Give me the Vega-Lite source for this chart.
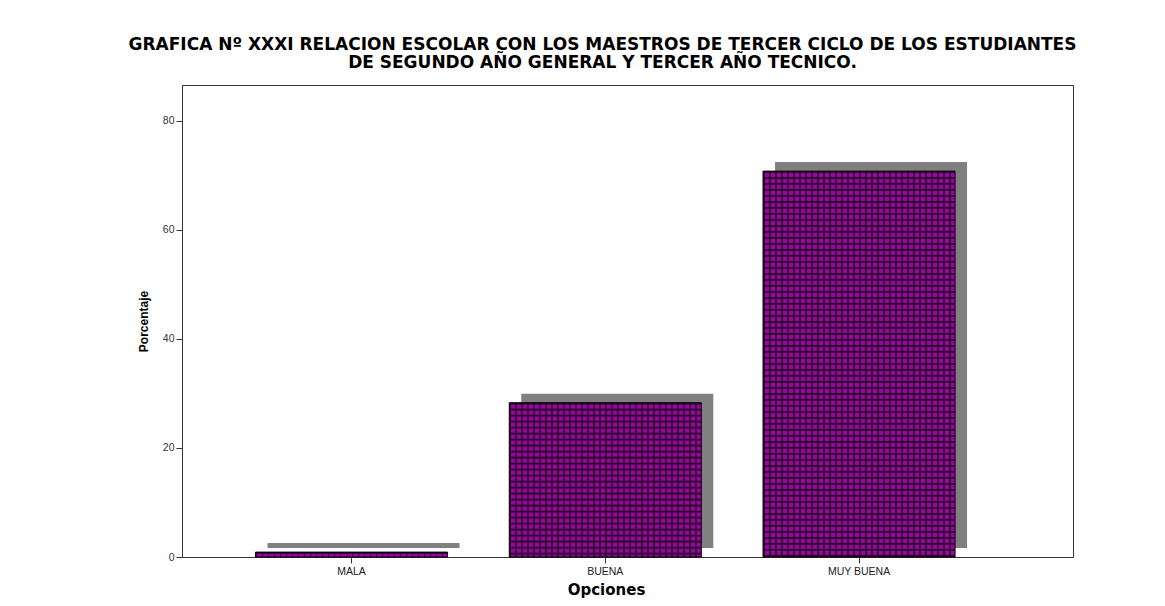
{
  "$schema": "https://vega.github.io/schema/vega-lite/v6.json",
  "autosize": "none",
  "width": 891,
  "height": 472,
  "padding": {"left": 182, "top": 85, "right": 92, "bottom": 49},
  "background": "#ffffff",
  "config": {
    "view": {"stroke": "#333333", "strokeWidth": 1},
    "font": "Liberation Sans"
  },
  "title": {
    "text": ["GRAFICA Nº XXXI RELACION ESCOLAR CON LOS MAESTROS DE TERCER CICLO DE LOS ESTUDIANTES", "DE SEGUNDO AÑO GENERAL Y TERCER AÑO TECNICO."],
    "font": "DejaVu Sans",
    "fontSize": 17,
    "fontWeight": "bold",
    "color": "#000000",
    "lineHeight": 18,
    "offset": 4,
    "dx": -25
  },
  "data": {
    "values": [
      {"Opciones": "MALA", "Porcentaje": 0.9},
      {"Opciones": "BUENA", "Porcentaje": 28.3},
      {"Opciones": "MUY BUENA", "Porcentaje": 70.8}
    ]
  },
  "encoding": {
    "x": {
      "field": "Opciones",
      "type": "nominal",
      "sort": null,
      "scale": {"paddingInner": 0.2433, "paddingOuter": 0.3773, "align": 0.384},
      "axis": {
        "labelAngle": 0,
        "tickSize": 6,
        "tickColor": "#333333",
        "domainColor": "#333333",
        "labelFontSize": 10.5,
        "labelColor": "#222222",
        "labelPadding": 3,
        "title": "Opciones",
        "titleFont": "DejaVu Sans",
        "titleFontSize": 15,
        "titleFontWeight": "bold",
        "titleColor": "#000000",
        "titlePadding": 6,
        "titleX": 424,
        "titleAlign": "center"
      }
    },
    "y": {
      "field": "Porcentaje",
      "type": "quantitative",
      "scale": {"domain": [0, 86.6], "nice": false, "zero": true},
      "axis": {
        "values": [0, 20, 40, 60, 80],
        "grid": false,
        "tickSize": 6,
        "tickColor": "#333333",
        "domainColor": "#333333",
        "labelFontSize": 10.5,
        "labelColor": "#333333",
        "labelPadding": 2,
        "title": "Porcentaje",
        "titleFont": "Liberation Sans",
        "titleFontSize": 12,
        "titleFontWeight": "bold",
        "titleColor": "#000000",
        "titlePadding": 12
      }
    }
  },
  "layer": [
    {
      "mark": {"type": "bar", "color": "#808080", "xOffset": 12, "x2Offset": 12, "yOffset": -9, "y2Offset": -9},
      "encoding": {"y2": {"datum": 0}}
    },
    {
      "mark": {
        "type": "bar",
        "fill": {
          "gradient": "linear", "x1": 0, "y1": 0, "x2": 1, "y2": 0,
          "stops": [
            {"offset": 0, "color": "#2b002b"}, {"offset": 0.009, "color": "#2b002b"}, {"offset": 0.009, "color": "#a000a8"}, {"offset": 0.03125, "color": "#a000a8"},
            {"offset": 0.03125, "color": "#2b002b"}, {"offset": 0.04025, "color": "#2b002b"}, {"offset": 0.04025, "color": "#a000a8"}, {"offset": 0.0625, "color": "#a000a8"},
            {"offset": 0.0625, "color": "#2b002b"}, {"offset": 0.0715, "color": "#2b002b"}, {"offset": 0.0715, "color": "#a000a8"}, {"offset": 0.09375, "color": "#a000a8"},
            {"offset": 0.09375, "color": "#2b002b"}, {"offset": 0.10275, "color": "#2b002b"}, {"offset": 0.10275, "color": "#a000a8"}, {"offset": 0.125, "color": "#a000a8"},
            {"offset": 0.125, "color": "#2b002b"}, {"offset": 0.134, "color": "#2b002b"}, {"offset": 0.134, "color": "#a000a8"}, {"offset": 0.15625, "color": "#a000a8"},
            {"offset": 0.15625, "color": "#2b002b"}, {"offset": 0.16525, "color": "#2b002b"}, {"offset": 0.16525, "color": "#a000a8"}, {"offset": 0.1875, "color": "#a000a8"},
            {"offset": 0.1875, "color": "#2b002b"}, {"offset": 0.1965, "color": "#2b002b"}, {"offset": 0.1965, "color": "#a000a8"}, {"offset": 0.21875, "color": "#a000a8"},
            {"offset": 0.21875, "color": "#2b002b"}, {"offset": 0.22775, "color": "#2b002b"}, {"offset": 0.22775, "color": "#a000a8"}, {"offset": 0.25, "color": "#a000a8"},
            {"offset": 0.25, "color": "#2b002b"}, {"offset": 0.259, "color": "#2b002b"}, {"offset": 0.259, "color": "#a000a8"}, {"offset": 0.28125, "color": "#a000a8"},
            {"offset": 0.28125, "color": "#2b002b"}, {"offset": 0.29025, "color": "#2b002b"}, {"offset": 0.29025, "color": "#a000a8"}, {"offset": 0.3125, "color": "#a000a8"},
            {"offset": 0.3125, "color": "#2b002b"}, {"offset": 0.3215, "color": "#2b002b"}, {"offset": 0.3215, "color": "#a000a8"}, {"offset": 0.34375, "color": "#a000a8"},
            {"offset": 0.34375, "color": "#2b002b"}, {"offset": 0.35275, "color": "#2b002b"}, {"offset": 0.35275, "color": "#a000a8"}, {"offset": 0.375, "color": "#a000a8"},
            {"offset": 0.375, "color": "#2b002b"}, {"offset": 0.384, "color": "#2b002b"}, {"offset": 0.384, "color": "#a000a8"}, {"offset": 0.40625, "color": "#a000a8"},
            {"offset": 0.40625, "color": "#2b002b"}, {"offset": 0.41525, "color": "#2b002b"}, {"offset": 0.41525, "color": "#a000a8"}, {"offset": 0.4375, "color": "#a000a8"},
            {"offset": 0.4375, "color": "#2b002b"}, {"offset": 0.4465, "color": "#2b002b"}, {"offset": 0.4465, "color": "#a000a8"}, {"offset": 0.46875, "color": "#a000a8"},
            {"offset": 0.46875, "color": "#2b002b"}, {"offset": 0.47775, "color": "#2b002b"}, {"offset": 0.47775, "color": "#a000a8"}, {"offset": 0.5, "color": "#a000a8"},
            {"offset": 0.5, "color": "#2b002b"}, {"offset": 0.509, "color": "#2b002b"}, {"offset": 0.509, "color": "#a000a8"}, {"offset": 0.53125, "color": "#a000a8"},
            {"offset": 0.53125, "color": "#2b002b"}, {"offset": 0.54025, "color": "#2b002b"}, {"offset": 0.54025, "color": "#a000a8"}, {"offset": 0.5625, "color": "#a000a8"},
            {"offset": 0.5625, "color": "#2b002b"}, {"offset": 0.5715, "color": "#2b002b"}, {"offset": 0.5715, "color": "#a000a8"}, {"offset": 0.59375, "color": "#a000a8"},
            {"offset": 0.59375, "color": "#2b002b"}, {"offset": 0.60275, "color": "#2b002b"}, {"offset": 0.60275, "color": "#a000a8"}, {"offset": 0.625, "color": "#a000a8"},
            {"offset": 0.625, "color": "#2b002b"}, {"offset": 0.634, "color": "#2b002b"}, {"offset": 0.634, "color": "#a000a8"}, {"offset": 0.65625, "color": "#a000a8"},
            {"offset": 0.65625, "color": "#2b002b"}, {"offset": 0.66525, "color": "#2b002b"}, {"offset": 0.66525, "color": "#a000a8"}, {"offset": 0.6875, "color": "#a000a8"},
            {"offset": 0.6875, "color": "#2b002b"}, {"offset": 0.6965, "color": "#2b002b"}, {"offset": 0.6965, "color": "#a000a8"}, {"offset": 0.71875, "color": "#a000a8"},
            {"offset": 0.71875, "color": "#2b002b"}, {"offset": 0.72775, "color": "#2b002b"}, {"offset": 0.72775, "color": "#a000a8"}, {"offset": 0.75, "color": "#a000a8"},
            {"offset": 0.75, "color": "#2b002b"}, {"offset": 0.759, "color": "#2b002b"}, {"offset": 0.759, "color": "#a000a8"}, {"offset": 0.78125, "color": "#a000a8"},
            {"offset": 0.78125, "color": "#2b002b"}, {"offset": 0.79025, "color": "#2b002b"}, {"offset": 0.79025, "color": "#a000a8"}, {"offset": 0.8125, "color": "#a000a8"},
            {"offset": 0.8125, "color": "#2b002b"}, {"offset": 0.8215, "color": "#2b002b"}, {"offset": 0.8215, "color": "#a000a8"}, {"offset": 0.84375, "color": "#a000a8"},
            {"offset": 0.84375, "color": "#2b002b"}, {"offset": 0.85275, "color": "#2b002b"}, {"offset": 0.85275, "color": "#a000a8"}, {"offset": 0.875, "color": "#a000a8"},
            {"offset": 0.875, "color": "#2b002b"}, {"offset": 0.884, "color": "#2b002b"}, {"offset": 0.884, "color": "#a000a8"}, {"offset": 0.90625, "color": "#a000a8"},
            {"offset": 0.90625, "color": "#2b002b"}, {"offset": 0.91525, "color": "#2b002b"}, {"offset": 0.91525, "color": "#a000a8"}, {"offset": 0.9375, "color": "#a000a8"},
            {"offset": 0.9375, "color": "#2b002b"}, {"offset": 0.9465, "color": "#2b002b"}, {"offset": 0.9465, "color": "#a000a8"}, {"offset": 0.96875, "color": "#a000a8"},
            {"offset": 0.96875, "color": "#2b002b"}, {"offset": 0.97775, "color": "#2b002b"}, {"offset": 0.97775, "color": "#a000a8"}, {"offset": 1, "color": "#a000a8"}
          ]
        }
      },
      "encoding": {"y2": {"datum": 0}}
    },
    {
      "mark": {"type": "rule", "color": "#2b002b", "strokeWidth": 191, "strokeDash": [1.7, 4.3], "strokeCap": "butt"},
      "encoding": {"y2": {"datum": 0}}
    },
    {
      "mark": {"type": "bar", "fillOpacity": 0, "stroke": "#000000", "strokeWidth": 1},
      "encoding": {"y2": {"datum": 0}}
    }
  ]
}
